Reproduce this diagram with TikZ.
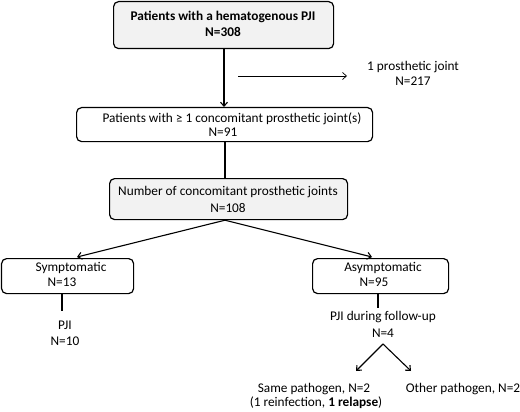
\documentclass[tikz,border=0pt]{standalone}
\usepackage{fontspec}
\setmainfont{Carlito}
\usetikzlibrary{arrows.meta}
\definecolor{boxgray}{HTML}{F2F2F2}
\tikzset{
  x=1pt,y=-1pt,
  box/.style={draw=black,line width=1.2pt,rounded corners=5pt,inner sep=0pt,anchor=north west},
  graybox/.style={box,fill=boxgray},
  txt/.style={inner sep=0pt,font=\fontsize{13.3}{15}\selectfont},
  btxt/.style={txt,font=\fontsize{13.3}{15}\selectfont\bfseries},
  conn/.style={line width=1.1pt},
  arr/.style={conn,-{Straight Barb[length=4pt,width=7pt]}},
  thinarr/.style={line width=0.7pt,-{Straight Barb[length=4pt,width=7pt]}}
}
\begin{document}
\begin{tikzpicture}
\useasboundingbox (0,0) rectangle (520,412);
% boxes
\node[graybox,minimum width=220pt,minimum height=47pt] (b1) at (113,1) {};
\node[box,minimum width=296pt,minimum height=34pt] (b2) at (76,107) {};
\node[graybox,minimum width=238pt,minimum height=41pt] (b3) at (109,178) {};
\node[box,minimum width=132pt,minimum height=35pt] (b4) at (1,258) {};
\node[box,minimum width=136pt,minimum height=35pt] (b5) at (312,258) {};
% texts
\node[btxt] (t1a) at (223,17) {Patients with a hematogenous PJI};
\node[btxt] (t1b) at (223,32) {N=308};
\node[txt] (side1) at (413,67) {1 prosthetic joint};
\node[txt] (side2) at (413,81) {N=217};
\node[txt] (t2a) at (232,119) {Patients with ≥ 1 concomitant prosthetic joint(s)};
\node[txt] (t2b) at (223,132) {N=91};
\node[txt] (t3a) at (228,192) {Number of concomitant prosthetic joints};
\node[txt] (t3b) at (228,208) {N=108};
\node[txt] (t4a) at (71,268) {Symptomatic};
\node[txt] (t4b) at (62,282) {N=13};
\node[txt] (t5a) at (383,268) {Asymptomatic};
\node[txt] (t5b) at (374,282) {N=95};
\node[txt] (p1a) at (65,325) {PJI};
\node[txt] (p1b) at (65,341) {N=10};
\node[txt] (p2a) at (383,317) {PJI during follow-up};
\node[txt] (p2b) at (383,333) {N=4};
\node[txt] (s1a) at (314,389) {Same pathogen, N=2};
\node[txt] (s1b) at (316,403) {(1 reinfection, \textbf{1 relapse})};
\node[txt] (s2) at (463,389) {Other pathogen, N=2};
% connectors
\coordinate (h1) at (238,76);
\coordinate (h2) at (347,76);
\coordinate (l1) at (62,311);
\coordinate (l2) at (378,308);
\coordinate (fork) at (383,344);
\coordinate (tipL) at (356,371);
\coordinate (tipR) at (411,371);
\coordinate (tip4) at (77,257);
\coordinate (tip5) at (372,257);
\draw[arr] (b1.south -| 224,0) -- (b2.north -| 224,0);
\draw[thinarr] (h1) -- (h2);
\draw[conn] (b2.south -| 225,0) -- (b3.north -| 225,0);
\draw[arr] (b3.south -| 225,0) -- (tip4);
\draw[arr] (b3.south -| 225,0) -- (tip5);
\draw[conn] (b4.south -| 62,0) -- (l1);
\draw[conn] (b5.south -| 378,0) -- (l2);
\draw[arr] (fork) -- (tipL);
\draw[arr] (fork) -- (tipR);
\end{tikzpicture}
\end{document}
